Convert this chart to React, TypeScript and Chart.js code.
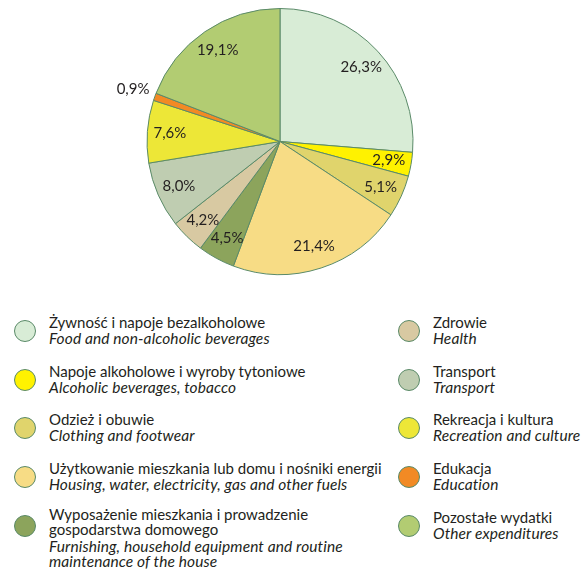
import React, { useEffect, useRef } from "react";
import { Chart, registerables } from "chart.js";

Chart.register(...registerables);

const categoriesPl = [
  "Żywność i napoje bezalkoholowe",
  "Napoje alkoholowe i wyroby tytoniowe",
  "Odzież i obuwie",
  "Użytkowanie mieszkania lub domu i nośniki energii",
  "Wyposażenie mieszkania i prowadzenie\ngospodarstwa domowego",
  "Zdrowie",
  "Transport",
  "Rekreacja i kultura",
  "Edukacja",
  "Pozostałe wydatki",
];

const categoriesEn = [
  "Food and non-alcoholic beverages",
  "Alcoholic beverages, tobacco",
  "Clothing and footwear",
  "Housing, water, electricity, gas and other fuels",
  "Furnishing, household equipment and routine\nmaintenance of the house",
  "Health",
  "Transport",
  "Recreation and culture",
  "Education",
  "Other expenditures",
];

const shares = [26.3, 2.9, 5.1, 21.4, 4.5, 4.2, 8.0, 7.6, 0.9, 19.1];

const colors = [
  "#d8ecd6",
  "#fff200",
  "#e0d46c",
  "#f7dc85",
  "#8ca45c",
  "#d8c9a2",
  "#bfcdb1",
  "#ede737",
  "#f28a24",
  "#b2cc72",
];

const borderColor = "#5a8a68";
const textColor = "#231f20";
const FONT = "Lato, 'Open Sans', sans-serif";

const fmt = (v: number) => v.toFixed(1).replace(".", ",") + "%";

const labelPlugin = {
  id: "sliceLabels",
  afterDatasetsDraw(chart: any) {
    const ctx = chart.ctx;
    const meta = chart.getDatasetMeta(0);
    const data = chart.data.datasets[0].data as number[];
    ctx.save();
    ctx.font = "15px " + FONT;
    ctx.fillStyle = textColor;
    ctx.textAlign = "center";
    ctx.textBaseline = "middle";
    meta.data.forEach((arc: any, i: number) => {
      const p = arc.getProps(["x", "y", "startAngle", "endAngle", "outerRadius"], true);
      const mid = (p.startAngle + p.endAngle) / 2;
      const r = data[i] < 2 ? p.outerRadius + 23 : p.outerRadius * 0.83;
      ctx.fillText(fmt(data[i]), p.x + Math.cos(mid) * r, p.y + Math.sin(mid) * r);
    });
    ctx.restore();
  },
};

function LegendItem({ i, left, cy }: { i: number; left: number; cy: number }) {
  const pl = categoriesPl[i].split("\n");
  const en = categoriesEn[i].split("\n");
  const multi = pl.length > 1;
  return (
    <div style={{ position: "absolute", left, top: cy - 17 }}>
      <div
        style={{
          position: "absolute",
          left: 0,
          top: 5,
          width: 22,
          height: 22,
          borderRadius: "50%",
          background: colors[i],
          border: "1.2px solid " + borderColor,
          boxSizing: "border-box",
        }}
      />
      <div
        style={{
          position: "absolute",
          left: 35,
          top: multi ? -3 : 0,
          whiteSpace: "nowrap",
          fontFamily: FONT,
          fontSize: 15,
          lineHeight: "14.5px",
          color: textColor,
        }}
      >
        {pl.map((t, k) => (
          <div key={"p" + k}>{t}</div>
        ))}
        <div
          style={{
            fontStyle: "italic",
            fontSize: 15.5,
            letterSpacing: "0.1px",
            lineHeight: "14.5px",
            marginTop: multi ? 3 : 1,
          }}
        >
          {en.map((t, k) => (
            <div key={"e" + k}>{t}</div>
          ))}
        </div>
      </div>
    </div>
  );
}

export default function App() {
  const ref = useRef<HTMLCanvasElement>(null);
  useEffect(() => {
    if (!ref.current) return;
    const chart = new Chart(ref.current, {
      type: "pie",
      data: {
        labels: categoriesPl,
        datasets: [
          {
            data: shares,
            backgroundColor: colors,
            borderColor: borderColor,
            borderWidth: 1,
          },
        ],
      },
      options: {
        responsive: false,
        animation: false,
        layout: { padding: { top: 8, bottom: 8, left: 8, right: 8 } },
        plugins: {
          legend: { display: false },
          tooltip: { enabled: false },
        },
      },
      plugins: [labelPlugin],
    });
    return () => chart.destroy();
  }, []);

  const rows = [332, 381, 429, 478, 527];
  return (
    <div style={{ position: "absolute", left: 0, top: 0, width: 582, height: 572, background: "#fff", overflow: "hidden" }}>
      <canvas
        ref={ref}
        width={340}
        height={283}
        style={{ position: "absolute", left: 110, top: 0, width: 340, height: 283 }}
      />
      {rows.map((cy, k) => (
        <LegendItem key={"l" + k} i={k} left={14} cy={cy} />
      ))}
      {rows.map((cy, k) => (
        <LegendItem key={"r" + k} i={k + 5} left={398} cy={cy} />
      ))}
    </div>
  );
}
